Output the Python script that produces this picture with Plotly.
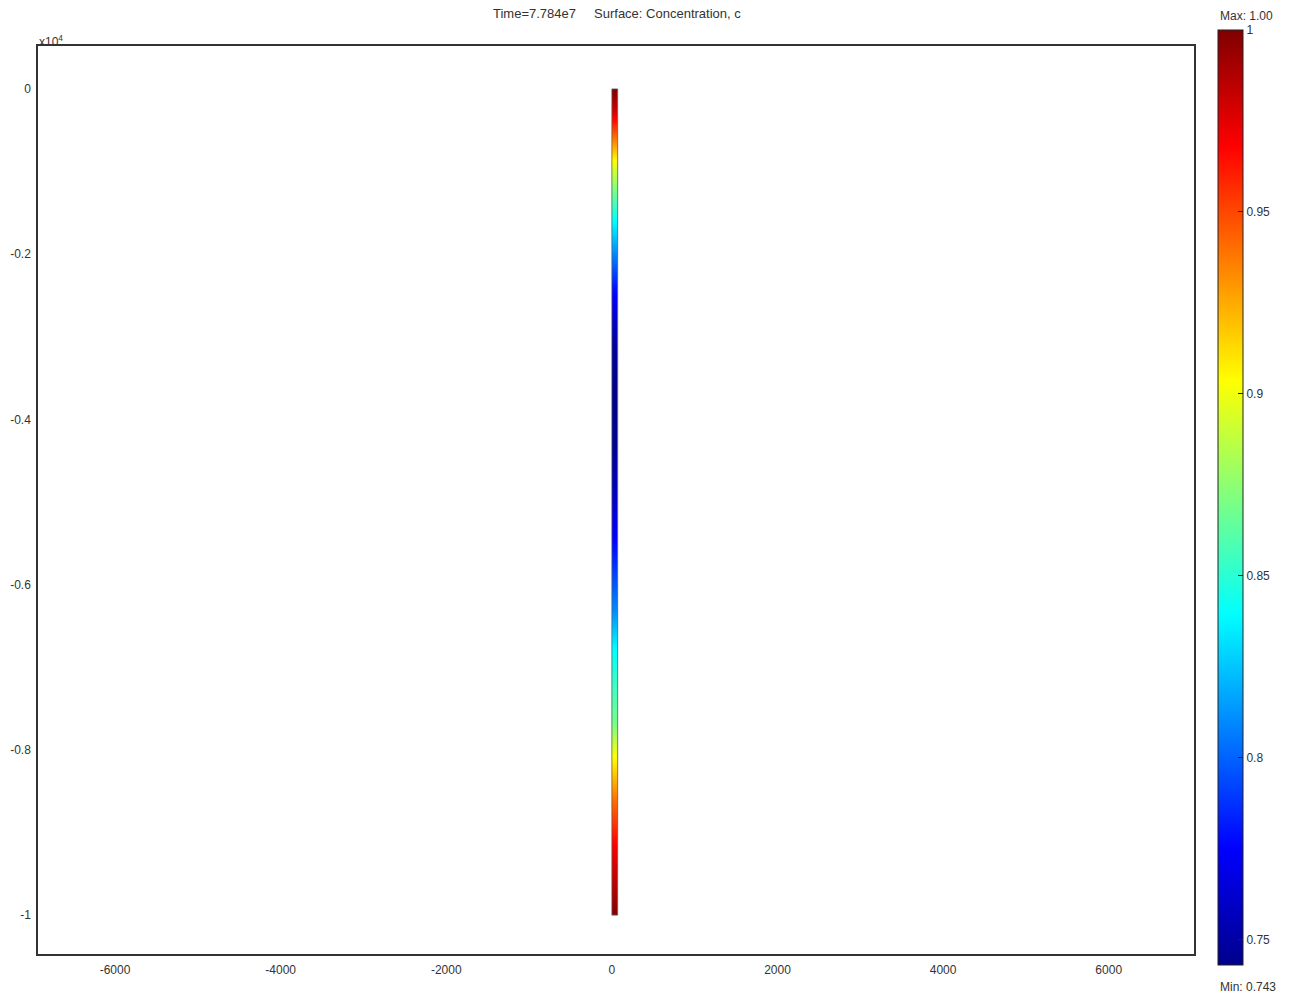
import plotly.graph_objects as go

# Concentration profile along the strip
conc_y = [0, -250, -580, -900, -1220, -1590, -1990, -2400, -2800, -3150, -3600,
          -4300, -4980, -5580, -6300, -6750, -7680, -8040, -8610, -9180, -9900, -10000]
conc_c = [1.0, 0.98, 0.94, 0.90, 0.87, 0.84, 0.81, 0.78, 0.76, 0.748, 0.743,
          0.745, 0.76, 0.78, 0.81, 0.838, 0.87, 0.90, 0.94, 0.97, 0.995, 1.0]

strip_x = [0, 70]
outline_x = [0, 70, 70, 0, 0]
outline_y = [0, 0, -10000, -10000, 0]

c_min, c_max = 0.743, 1.0
cb_ticks = [0.75, 0.8, 0.85, 0.9, 0.95, 1.0]
cb_text = ["0.75", "0.8", "0.85", "0.9", "0.95", "1"]

x_ticks = [-6000, -4000, -2000, 0, 2000, 4000, 6000]
x_text = ["-6000", "-4000", "-2000", "0", "2000", "4000", "6000"]
y_ticks = [0, -2000, -4000, -6000, -8000, -10000]
y_text = ["0", "-0.2", "-0.4", "-0.6", "-0.8", "-1"]

jet = [[0, "rgb(0,0,140)"], [0.125, "rgb(0,0,255)"], [0.375, "rgb(0,255,255)"],
       [0.625, "rgb(255,255,0)"], [0.875, "rgb(255,0,0)"], [1, "rgb(128,0,0)"]]

FONT = "Liberation Sans"
TXT = "#333"

fig = go.Figure()
fig.add_trace(go.Contour(
    x=strip_x, y=conc_y, z=[[c, c] for c in conc_c],
    colorscale=jet, zmin=c_min, zmax=c_max, zauto=False,
    contours=dict(coloring="heatmap", showlines=False),
    line=dict(width=0),
    colorbar=dict(
        thickness=25, lenmode="pixels", len=935, y=0.5028, yanchor="middle",
        x=1.0208, xanchor="left", xpad=0, ypad=0,
        outlinecolor="#222", outlinewidth=1,
        tickvals=cb_ticks, ticktext=cb_text, ticks="inside", ticklen=5,
        tickcolor="#222", tickfont=dict(family=FONT, size=12, color=TXT),
    ),
    hoverinfo="skip",
))
fig.add_trace(go.Scatter(
    x=outline_x, y=outline_y, mode="lines",
    line=dict(color="rgba(90,90,90,0.8)", width=1), showlegend=False, hoverinfo="skip",
))

axis_common = dict(showgrid=False, zeroline=False, showline=True, mirror=True,
                   linecolor="#333", linewidth=1.5, ticks="", automargin=False,
                   tickfont=dict(family=FONT, size=12, color=TXT))
fig.update_xaxes(range=[-6930, 7030], tickvals=x_ticks, ticktext=x_text,
                 ticklabelstandoff=4, **axis_common)
fig.update_yaxes(range=[-10470, 520], tickvals=y_ticks, ticktext=y_text,
                 ticklabelstandoff=3, **axis_common)

fig.update_layout(
    width=1295, height=1000,
    margin=dict(l=38, r=101, t=46, b=46, autoexpand=False),
    plot_bgcolor="white", paper_bgcolor="white",
    showlegend=False,
    font=dict(family=FONT, size=12, color=TXT),
    annotations=[
        dict(text="Time=7.784e7&nbsp;&nbsp;&nbsp;&nbsp;&nbsp;Surface: Concentration, c",
             xref="paper", yref="paper", x=(617 - 38) / 1156, y=(954 - 14) / 908,
             xanchor="center", yanchor="middle", showarrow=False,
             font=dict(family=FONT, size=13, color=TXT)),
        dict(text="Max: 1.00", xref="paper", yref="paper",
             x=(1246 - 38) / 1156, y=(954 - 16) / 908, xanchor="center", yanchor="middle",
             showarrow=False, font=dict(family=FONT, size=12, color=TXT)),
        dict(text="Min: 0.743", xref="paper", yref="paper",
             x=(1248 - 38) / 1156, y=(954 - 987) / 908, xanchor="center", yanchor="middle",
             showarrow=False, font=dict(family=FONT, size=12, color=TXT)),
        dict(text="x10<sup>4</sup>", xref="paper", yref="paper",
             x=(37 - 38) / 1156, y=(954 - 41) / 908, xanchor="left", yanchor="middle",
             showarrow=False, font=dict(family=FONT, size=12, color=TXT)),
    ],
)

fig.write_html("out.html")
